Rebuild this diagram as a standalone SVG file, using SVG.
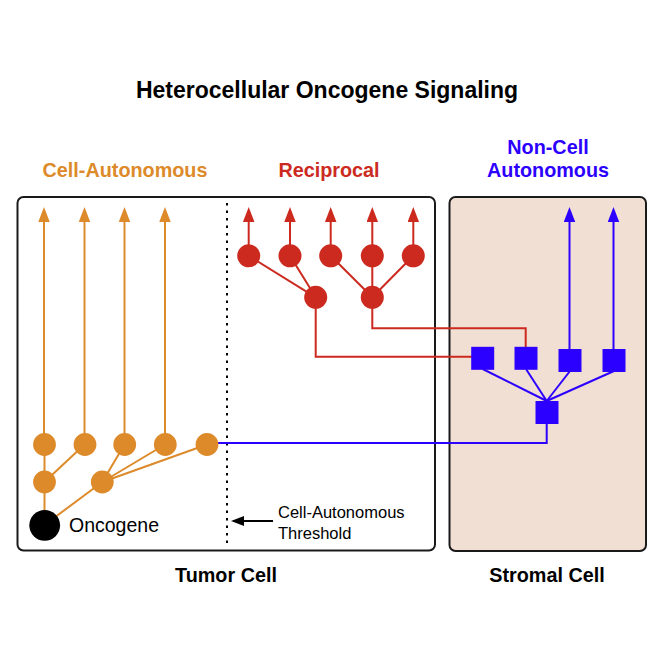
<svg xmlns="http://www.w3.org/2000/svg" width="664" height="664" viewBox="0 0 664 664">
  <defs>
    <style>
      text { font-family: "Liberation Sans", Arial, Helvetica, sans-serif; }
      .title { font-size: 23px; font-weight: bold; fill: #000; text-anchor: middle; }
      .hdr { font-size: 19.8px; font-weight: bold; text-anchor: middle; }
      .lbl { font-size: 19.8px; font-weight: bold; fill: #000; text-anchor: middle; }
      .or { stroke: #dd8a2a; stroke-width: 2; fill: none; }
      .rd { stroke: #cc2a1f; stroke-width: 2; fill: none; }
      .bl { stroke: #2c00ff; stroke-width: 2; fill: none; }
      .orf { fill: #dd8a2a; }
      .rdf { fill: #cc2a1f; }
      .blf { fill: #2c00ff; }
      .box { stroke: #1a1a1a; stroke-width: 2; }
    </style>
    <marker id="aO" markerUnits="userSpaceOnUse" markerWidth="16" markerHeight="12" refX="7.5" refY="5.75" orient="auto">
      <path d="M0,0 L15,5.75 L0,11.5 z" fill="#dd8a2a"/>
    </marker>
    <marker id="aR" markerUnits="userSpaceOnUse" markerWidth="16" markerHeight="12" refX="7.5" refY="5.75" orient="auto">
      <path d="M0,0 L15,5.75 L0,11.5 z" fill="#cc2a1f"/>
    </marker>
    <marker id="aB" markerUnits="userSpaceOnUse" markerWidth="16" markerHeight="12" refX="7.5" refY="5.75" orient="auto">
      <path d="M0,0 L15,5.75 L0,11.5 z" fill="#2c00ff"/>
    </marker>
    <marker id="aK" markerUnits="userSpaceOnUse" markerWidth="14" markerHeight="11" refX="6" refY="5" orient="auto">
      <path d="M0,0 L13,5 L0,10 z" fill="#000"/>
    </marker>
  </defs>

  <rect width="664" height="664" fill="#fff"/>

  <!-- titles -->
  <text class="title" x="327" y="98">Heterocellular Oncogene Signaling</text>
  <text class="hdr" x="125" y="177" fill="#dd8a2a">Cell-Autonomous</text>
  <text class="hdr" x="329" y="177" fill="#cc2a1f">Reciprocal</text>
  <text class="hdr" x="548" y="154" fill="#2c00ff">Non-Cell</text>
  <text class="hdr" x="548" y="177" fill="#2c00ff">Autonomous</text>

  <!-- cells -->
  <g id="tumor-cell">
    <rect class="box" x="17.5" y="197" width="417.5" height="353.5" rx="6" fill="#fff"/>
    <text class="lbl" x="226" y="582">Tumor Cell</text>
  </g>
  <g id="stromal-cell">
    <rect class="box" x="449.5" y="197" width="196.5" height="354" rx="6" fill="#f2dfd4"/>
    <text class="lbl" x="547" y="582">Stromal Cell</text>
  </g>

  <g id="threshold">
    <line x1="227" y1="203" x2="227" y2="546" stroke="#000" stroke-width="2" stroke-dasharray="2.5 5"/>
    <line x1="273" y1="521" x2="238" y2="521" stroke="#000" stroke-width="2" marker-end="url(#aK)"/>
    <text x="278" y="518" font-size="16.5">Cell-Autonomous</text>
    <text x="278" y="538.5" font-size="16.5">Threshold</text>
  </g>

  <!-- connectors -->
  <g id="connectors">
    <!-- orange -->
    <line class="or" x1="44" y1="444.5" x2="44" y2="214.5" marker-end="url(#aO)"/>
    <line class="or" x1="84.5" y1="444.5" x2="84.5" y2="214.5" marker-end="url(#aO)"/>
    <line class="or" x1="124.5" y1="444.5" x2="124.5" y2="214.5" marker-end="url(#aO)"/>
    <line class="or" x1="165" y1="444.5" x2="165" y2="214.5" marker-end="url(#aO)"/>
    <line class="or" x1="44.5" y1="525" x2="44.5" y2="444.5"/>
    <line class="or" x1="44.5" y1="525" x2="102.3" y2="482"/>
    <line class="or" x1="44.5" y1="482" x2="84.5" y2="444.5"/>
    <line class="or" x1="102.3" y1="482" x2="124.5" y2="444.5"/>
    <line class="or" x1="102.3" y1="482" x2="165" y2="444.5"/>
    <line class="or" x1="102.3" y1="482" x2="207" y2="444.5"/>
    <!-- red -->
    <line class="rd" x1="248.7" y1="255.8" x2="248.7" y2="214.5" marker-end="url(#aR)"/>
    <line class="rd" x1="290" y1="255.8" x2="290" y2="214.5" marker-end="url(#aR)"/>
    <line class="rd" x1="330.7" y1="255.8" x2="330.7" y2="214.5" marker-end="url(#aR)"/>
    <line class="rd" x1="372.3" y1="255.8" x2="372.3" y2="214.5" marker-end="url(#aR)"/>
    <line class="rd" x1="413.3" y1="255.8" x2="413.3" y2="214.5" marker-end="url(#aR)"/>
    <line class="rd" x1="248.7" y1="255.8" x2="315.7" y2="297.3"/>
    <line class="rd" x1="290" y1="255.8" x2="315.7" y2="297.3"/>
    <line class="rd" x1="330.7" y1="255.8" x2="372.3" y2="297.3"/>
    <line class="rd" x1="372.3" y1="255.8" x2="372.3" y2="297.3"/>
    <line class="rd" x1="413.3" y1="255.8" x2="372.3" y2="297.3"/>
    <polyline class="rd" points="315.7,297.3 315.7,356.7 472,356.7"/>
    <polyline class="rd" points="372.3,297.3 372.3,328.3 525.7,328.3 525.7,348"/>
    <!-- blue -->
    <polyline class="bl" points="207,443 546.7,443 546.7,412"/>
    <line class="bl" x1="546.7" y1="401" x2="482.7" y2="369"/>
    <line class="bl" x1="546.7" y1="401" x2="526" y2="369"/>
    <line class="bl" x1="546.7" y1="401" x2="570" y2="371"/>
    <line class="bl" x1="546.7" y1="401" x2="614" y2="371"/>
    <line class="bl" x1="569.5" y1="360" x2="569.5" y2="214.5" marker-end="url(#aB)"/>
    <line class="bl" x1="613.5" y1="360" x2="613.5" y2="214.5" marker-end="url(#aB)"/>
  </g>

  <!-- orange nodes -->
  <g id="o1"><circle class="orf" cx="44.5" cy="444.5" r="11.4"/></g>
  <g id="o2"><circle class="orf" cx="85" cy="444.5" r="11.4"/></g>
  <g id="o3"><circle class="orf" cx="124.7" cy="444.5" r="11.4"/></g>
  <g id="o4"><circle class="orf" cx="165.3" cy="444.5" r="11.4"/></g>
  <g id="o5"><circle class="orf" cx="207" cy="444.5" r="11.4"/></g>
  <g id="o6"><circle class="orf" cx="44.5" cy="482" r="11.4"/></g>
  <g id="o7"><circle class="orf" cx="102.3" cy="482" r="11.4"/></g>
  <g id="oncogene">
    <circle cx="44.7" cy="525.3" r="15.4" fill="#000"/>
    <text x="69" y="532" font-size="19.5">Oncogene</text>
  </g>

  <!-- red nodes -->
  <g id="r1"><circle class="rdf" cx="248.7" cy="255.8" r="11.5"/></g>
  <g id="r2"><circle class="rdf" cx="290" cy="255.8" r="11.5"/></g>
  <g id="r3"><circle class="rdf" cx="330.7" cy="255.8" r="11.5"/></g>
  <g id="r4"><circle class="rdf" cx="372.3" cy="255.8" r="11.5"/></g>
  <g id="r5"><circle class="rdf" cx="413.3" cy="255.8" r="11.5"/></g>
  <g id="r6"><circle class="rdf" cx="315.7" cy="297.3" r="11.5"/></g>
  <g id="r7"><circle class="rdf" cx="372.3" cy="297.3" r="11.5"/></g>

  <!-- blue nodes -->
  <g id="b1"><rect class="blf" x="471.2" y="346.8" width="23" height="23"/></g>
  <g id="b2"><rect class="blf" x="514.5" y="346.8" width="23" height="23"/></g>
  <g id="b3"><rect class="blf" x="558.5" y="349" width="23" height="23"/></g>
  <g id="b4"><rect class="blf" x="602.5" y="349" width="23" height="23"/></g>
  <g id="b5"><rect class="blf" x="535.5" y="401" width="23" height="23"/></g>
</svg>
